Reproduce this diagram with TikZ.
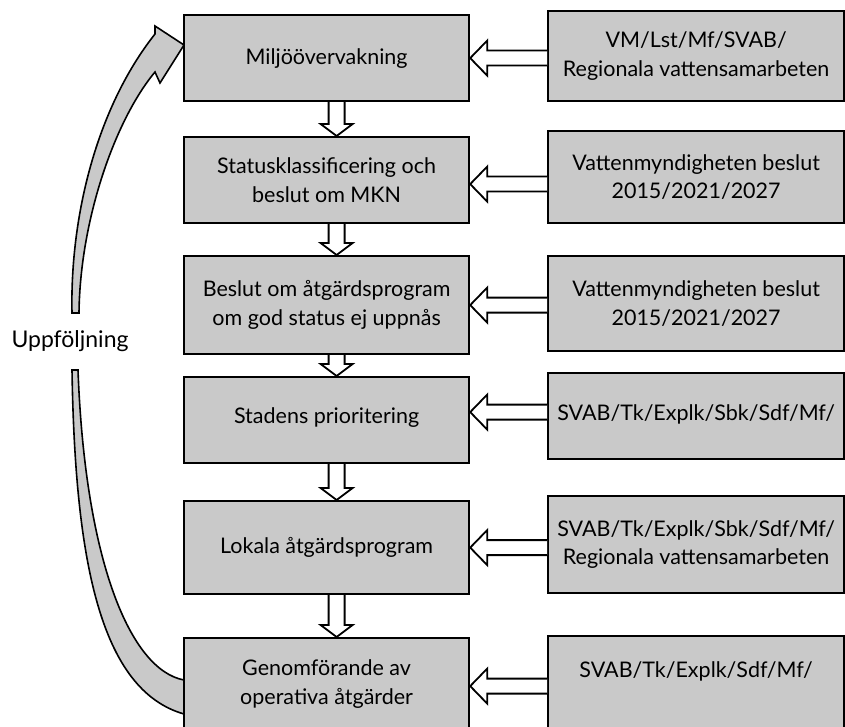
\documentclass[tikz,border=0pt]{standalone}
\usepackage{fontspec}
\setmainfont{Lato}
\usetikzlibrary{calc}
\definecolor{boxfill}{gray}{0.79}
\tikzset{
 box/.style={draw=black, line width=2.2pt, fill=boxfill, align=center, inner sep=0pt, anchor=north west, font=\fontsize{21.5}{28.5}\selectfont},
 lbox/.style={box, minimum width=285pt},
 rbox/.style={box, minimum width=296pt},
 harrow/.style={draw=black, line width=1.8pt, fill=white, line join=miter},
 band/.style={draw=black, line width=1.6pt, fill=boxfill, line join=miter}
}
% hollow down arrow from #1 to #2
\newcommand\downarr[2]{%
 \draw[harrow] let \p1=(#1.south), \p2=(#2.north) in
 (\x1+2pt,\y1) -- (\x1+2pt,\y2+12pt) -- (\x1-6pt,\y2+12pt) -- (\x1+10pt,\y2) -- (\x1+26pt,\y2+12pt) -- (\x1+18pt,\y2+12pt) -- (\x1+18pt,\y1);}
% hollow left arrow from #2 to #3, vertical offset #1
\newcommand\leftarr[3][0pt]{%
 \draw[harrow] let \p1=(#2.west), \p2=($(#3.east)+(0,#1)$) in
 (\x1,\y2+7.5pt) -- (\x2+17pt,\y2+7.5pt) -- (\x2+17pt,\y2+17.5pt) -- (\x2,\y2) -- (\x2+17pt,\y2-17.5pt) -- (\x2+17pt,\y2-7.5pt) -- (\x1,\y2-7.5pt);}
\begin{document}
\begin{tikzpicture}[x=1pt,y=-1pt]
\useasboundingbox (0,0) rectangle (845,727);
% follow-up curved arrow
\draw[band] (72,313) .. controls (70,220) and (95,110) .. (155,34) -- (155,26) -- (184,45) -- (160,83) -- (155,72) .. controls (115,120) and (80,220) .. (79,313) -- cycle;
\draw[band] (72,370) .. controls (75,560) and (100,690) .. (184,714) -- (184,680) .. controls (130,670) and (85,560) .. (78,370) -- cycle;
\node[font=\fontsize{23}{26}\selectfont, anchor=base] (upp) at (70,347) {Uppföljning};
% left column
\node[lbox, minimum height=86pt] (l1) at (183,14) {Miljöövervakning};
\node[lbox, minimum height=86pt] (l2) at (183,136) {Statusklassificering och\\beslut om MKN};
\node[lbox, minimum height=98pt] (l3) at (183,255) {Beslut om åtgärdsprogram\\om god status ej uppnås};
\node[lbox, minimum height=86pt] (l4) at (183,376) {\raisebox{9pt}{Stadens prioritering}};
\node[lbox, minimum height=93pt] (l5) at (183,500) {Lokala åtgärdsprogram};
\node[lbox, minimum height=92pt] (l6) at (183,637) {Genomförande av\\operativa åtgärder};
% right column
\node[rbox, minimum height=90pt] (r1) at (547,10) {VM/Lst/Mf/SVAB/\\Regionala vattensamarbeten};
\node[rbox, minimum height=92pt] (r2) at (547,130) {Vattenmyndigheten beslut\\2015/2021/2027};
\node[rbox, minimum height=95pt] (r3) at (547,255) {Vattenmyndigheten beslut\\2015/2021/2027};
\node[rbox, minimum height=86pt] (r4) at (547,372) {\raisebox{7pt}{SVAB/Tk/Explk/Sbk/Sdf/Mf/}};
\node[rbox, minimum height=97pt] (r5) at (547,495) {SVAB/Tk/Explk/Sbk/Sdf/Mf/\\Regionala vattensamarbeten};
\node[rbox, minimum height=95pt] (r6) at (547,635) {SVAB/Tk/Explk/Sdf/Mf/\\\mbox{}};
% down arrows
\downarr{l1}{l2}
\downarr{l2}{l3}
\downarr{l3}{l4}
\downarr{l4}{l5}
\downarr{l5}{l6}
% left arrows
\leftarr{r1}{l1}
\leftarr[4]{r2}{l2}
\leftarr{r3}{l3}
\leftarr[-8]{r4}{l4}
\leftarr{r5}{l5}
\leftarr[2]{r6}{l6}
\end{tikzpicture}
\end{document}
